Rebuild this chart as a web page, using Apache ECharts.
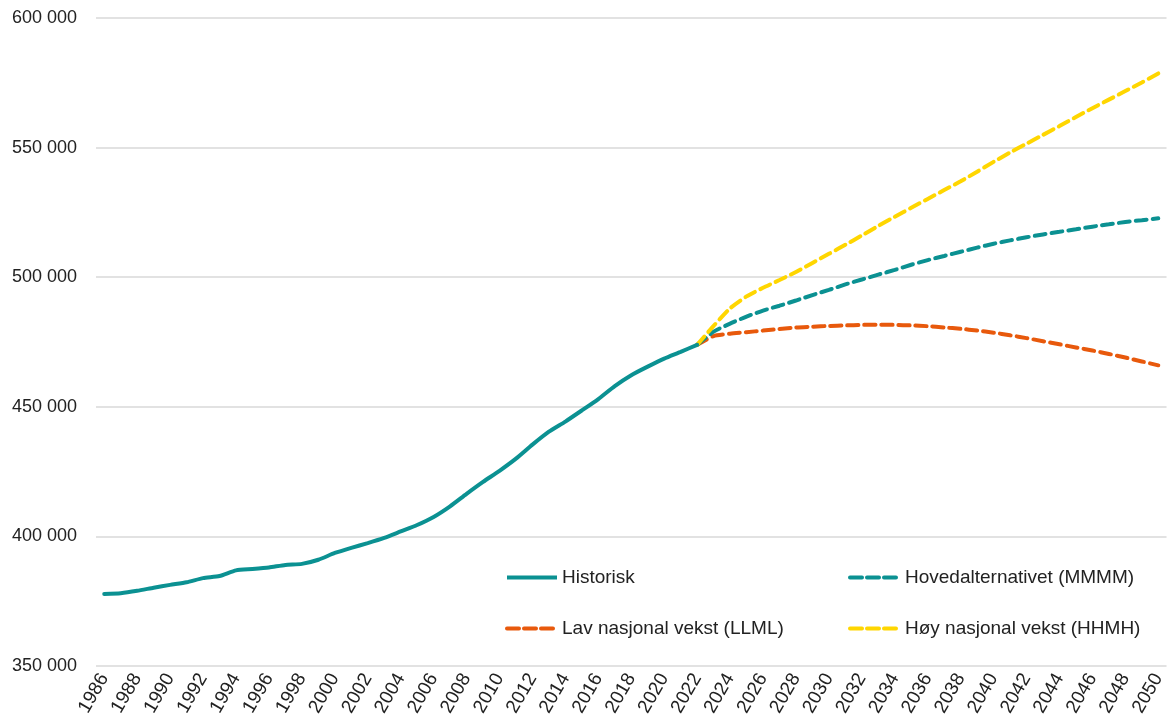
<!DOCTYPE html>
<html>
<head>
<meta charset="utf-8">
<script src="https://cdn.jsdelivr.net/npm/echarts@6/dist/echarts.min.js"></script>
<style>
html,body{margin:0;padding:0;background:#fff;}
#chart{width:1168px;height:727px;}
</style>
</head>
<body>
<div id="chart"></div>
<script>
const years = [];
for (let y = 1986; y <= 2050; y++) years.push(String(y));

const historisk = [
  377800, 378100, 379000, 380200, 381300, 382300, 383900, 384700, 386900, 387400,
  388000, 389000, 389400, 391000, 393600, 395600, 397400, 399400, 401900, 404400,
  407500, 411600, 416400, 421000, 425300, 430000, 435400, 440400, 444300, 448600,
  453000, 458000, 462200, 465500, 468600, 471200, 473900
];
// projections 2022..2050
const hovedalternativet = [
  473900, 479000, 482100, 484800, 487100, 489000, 491000, 493100, 495100, 497200,
  499100, 501000, 502800, 504800, 506600, 508200, 509800, 511400, 512900, 514200,
  515400, 516500, 517500, 518500, 519500, 520400, 521300, 522000, 522700
];
const lavVekst = [
  473900, 477300, 478200, 478800, 479400, 480000, 480600, 480900, 481200, 481400,
  481600, 481700, 481600, 481400, 481100, 480600, 480100, 479400, 478600, 477600,
  476500, 475300, 474100, 472900, 471700, 470400, 469000, 467500, 466000
];
const hoyVekst = [
  473900, 481200, 488000, 492600, 495900, 498900, 502000, 505500, 509000, 512500,
  516100, 519800, 523300, 526800, 530200, 533600, 537000, 540700, 544500, 548100,
  551500, 554900, 558300, 561800, 565200, 568500, 571800, 575100, 578600
];
const yTicks = [350000, 400000, 450000, 500000, 550000, 600000];

const histIndexEnd = years.indexOf('2022');
function pad(arr, start) {
  const out = new Array(years.length).fill(null);
  arr.forEach((v, i) => { out[start + i] = v; });
  return out;
}

const TEAL = '#0b9192';
const ORANGE = '#e8590c';
const YELLOW = '#ffd600';
const FONT = 'Liberation Sans';
const DASH = [11, 6];

const chart = echarts.init(document.getElementById('chart'), null, {renderer: 'canvas'});
const dashed = (c) => ({color: c, width: 4, type: DASH, cap: 'round'});

const legendText = {fontSize: 19, color: '#222', fontFamily: FONT};
const legendItem = (name, color, solid) => ({
  name,
  itemStyle: {opacity: 0},
  lineStyle: {color, width: 4, type: solid ? 'solid' : [12, 5], cap: solid ? 'butt' : 'round'}
});

chart.setOption({
  animation: false,
  backgroundColor: '#fff',
  textStyle: {fontFamily: FONT},
  grid: {left: 96, right: 0, top: 18, bottom: 61, containLabel: false},
  xAxis: {
    type: 'category',
    data: years,
    boundaryGap: true,
    axisLine: {show: false},
    axisTick: {show: false},
    axisLabel: {
      interval: 1,
      rotate: 60,
      fontSize: 19,
      color: '#222',
      fontFamily: FONT,
      margin: 9
    }
  },
  yAxis: {
    type: 'value',
    min: yTicks[0],
    max: yTicks[yTicks.length - 1],
    interval: 50000,
    axisLine: {show: false},
    axisTick: {show: false},
    splitLine: {lineStyle: {color: '#d9d9d9', width: 1.5}},
    axisLabel: {
      fontSize: 18,
      color: '#222',
      fontFamily: FONT,
      margin: 19,
      formatter: v => String(v).replace(/\B(?=(\d{3})+(?!\d))/g, ' ')
    }
  },
  legend: [
    {
      data: [legendItem('Historisk', TEAL, true), legendItem('Lav nasjonal vekst (LLML)', ORANGE, false)],
      orient: 'vertical',
      left: 500, top: 563,
      itemWidth: 50, itemHeight: 8, itemGap: 32,
      textStyle: legendText
    },
    {
      data: [legendItem('Hovedalternativet (MMMM)', TEAL, false), legendItem('Høy nasjonal vekst (HHMH)', YELLOW, false)],
      orient: 'vertical',
      left: 843, top: 563,
      itemWidth: 50, itemHeight: 8, itemGap: 32,
      textStyle: legendText
    }
  ],
  series: [
    {
      name: 'Lav nasjonal vekst (LLML)', type: 'line', symbol: 'none', smooth: 0.2,
      data: pad(lavVekst, histIndexEnd), lineStyle: dashed(ORANGE), itemStyle: {color: ORANGE}, z: 2
    },
    {
      name: 'Hovedalternativet (MMMM)', type: 'line', symbol: 'none', smooth: 0.2,
      data: pad(hovedalternativet, histIndexEnd), lineStyle: dashed(TEAL), itemStyle: {color: TEAL}, z: 3
    },
    {
      name: 'Høy nasjonal vekst (HHMH)', type: 'line', symbol: 'none', smooth: 0.2,
      data: pad(hoyVekst, histIndexEnd), lineStyle: dashed(YELLOW), itemStyle: {color: YELLOW}, z: 4
    },
    {
      name: 'Historisk', type: 'line', symbol: 'none', smooth: 0.2,
      data: pad(historisk, 0), lineStyle: {color: TEAL, width: 4, cap: 'round'}, itemStyle: {color: TEAL}, z: 5
    }
  ]
});
</script>
</body>
</html>
